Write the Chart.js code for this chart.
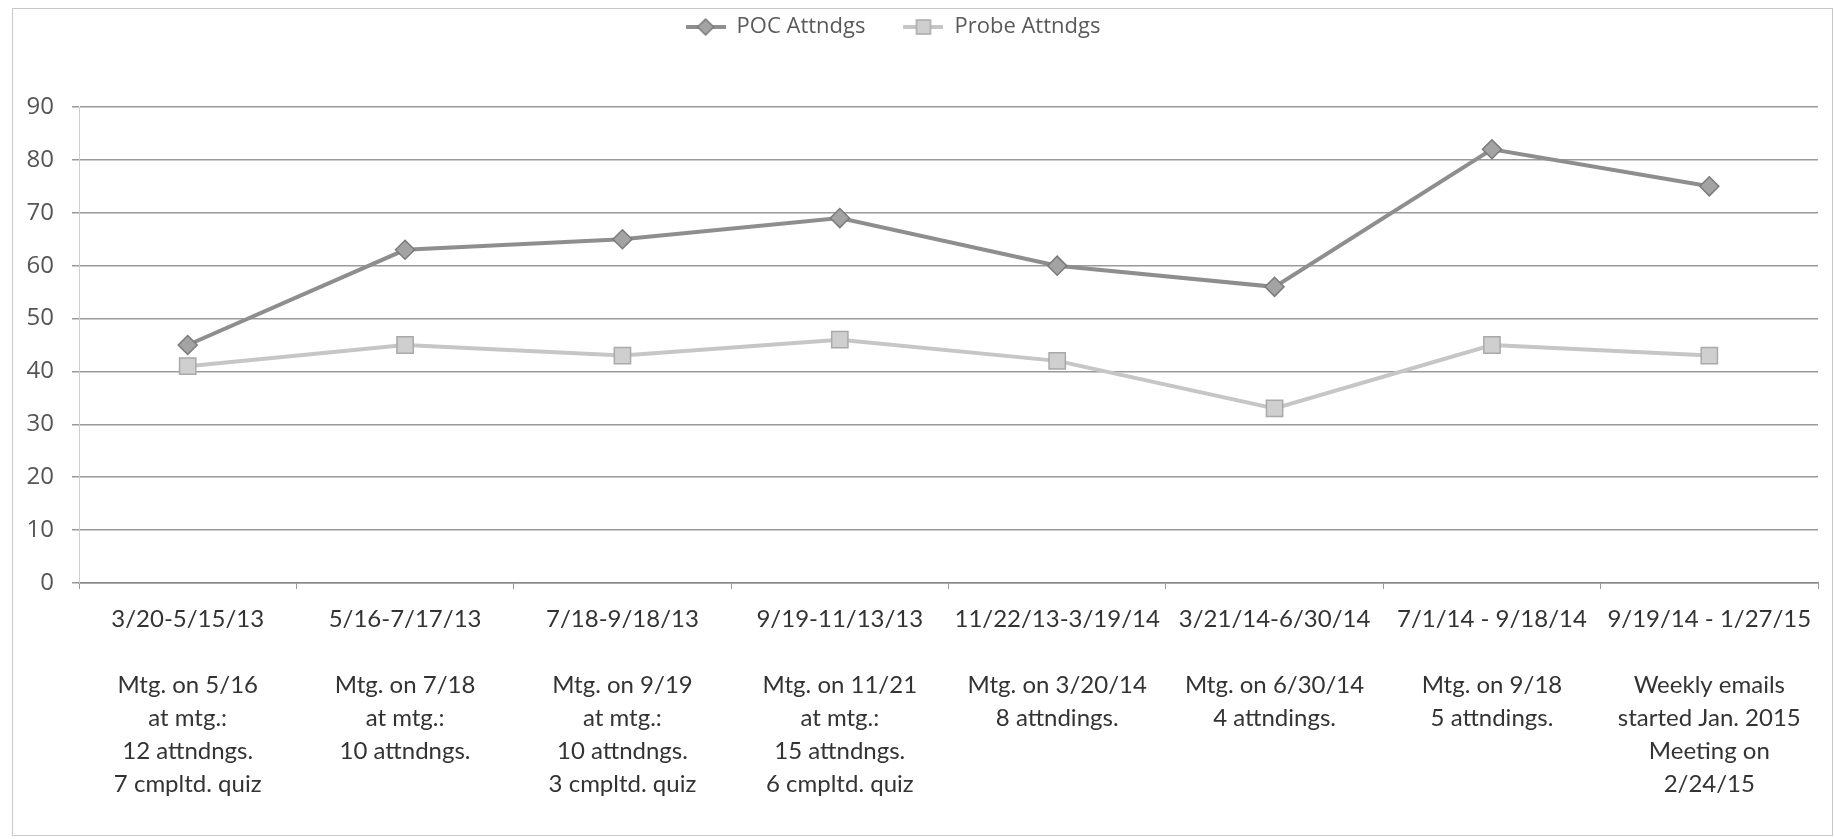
<!DOCTYPE html>
<html>
<head>
<meta charset="utf-8">
<script src="https://cdn.jsdelivr.net/npm/chart.js@4"></script>
<style>
  html, body { margin: 0; padding: 0; background: #fff; }
  #wrap { width: 1834px; height: 839px; }
</style>
</head>
<body>
<div id="wrap"><canvas id="chart" width="1834" height="839"></canvas></div>
<script>
// categorias (rango de fechas + notas de la reunion)
const periods = ['3/20-5/15/13', '5/16-7/17/13', '7/18-9/18/13', '9/19-11/13/13',
    '11/22/13-3/19/14', '3/21/14-6/30/14', '7/1/14 - 9/18/14', '9/19/14 - 1/27/15'];
const notes = [
    ['Mtg. on 5/16', 'at mtg.:', '12 attndngs.', '7 cmpltd. quiz'],
    ['Mtg. on 7/18', 'at mtg.:', '10 attndngs.'],
    ['Mtg. on 9/19', 'at mtg.:', '10 attndngs.', '3 cmpltd. quiz'],
    ['Mtg. on 11/21', 'at mtg.:', '15 attndngs.', '6 cmpltd. quiz'],
    ['Mtg. on 3/20/14', '8 attndings.'],
    ['Mtg. on 6/30/14', '4 attndings.'],
    ['Mtg. on 9/18', '5 attndings.'],
    ['Weekly emails', 'started Jan. 2015', 'Meeting on', '2/24/15']
];
const pocAttndgs = [45, 63, 65, 69, 60, 56, 82, 75];
const probeAttndgs = [41, 45, 43, 46, 42, 33, 45, 43];
const yTicks = [0, 10, 20, 30, 40, 50, 60, 70, 80, 90];

const labels = periods.map((p, i) => [p, ''].concat(notes[i]));

//icono de la legenda: linea con marcador en medio (como excel)
function legendIcon(lineColor, fill, border, shape) {
    const c = document.createElement('canvas');
    c.width = 40; c.height = 20;
    const g = c.getContext('2d');
    g.strokeStyle = lineColor;
    g.lineWidth = 4;
    g.beginPath(); g.moveTo(0, 10); g.lineTo(40, 10); g.stroke();
    g.fillStyle = fill;
    g.strokeStyle = border;
    g.lineWidth = 1.5;
    g.beginPath();
    if (shape === 'diamond') {
        g.moveTo(20, 2); g.lineTo(28, 10); g.lineTo(20, 18); g.lineTo(12, 10); g.closePath();
    } else {
        g.rect(13, 3, 14, 14);
    }
    g.fill(); g.stroke();
    return c;
}
const pocIcon = legendIcon('#8e8e8e', '#a3a3a3', '#7a7a7a', 'diamond');
const probeIcon = legendIcon('#c6c6c6', '#cfcfcf', '#a9a9a9', 'square');

//marco del grafico
const frame = {
    id: 'frame',
    beforeDraw(chart) {
        const ctx = chart.ctx;
        ctx.save();
        ctx.fillStyle = '#fff';
        ctx.fillRect(0, 0, chart.width, chart.height);
        ctx.strokeStyle = '#c8c8c8';
        ctx.lineWidth = 1;
        ctx.strokeRect(12.5, 8.5, chart.width - 14, chart.height - 12);
        ctx.restore();
    }
}
//altura fija de la legenda, y la subo un poco
const legendMargin = {
    id: 'legendMargin',
    beforeInit(chart) {
        const fitValue = chart.legend.fit;
        chart.legend.fit = function fit() {
            fitValue.bind(chart.legend)();
            return this.height = 99;
        }
        const drawValue = chart.legend.draw;
        chart.legend.draw = function draw() {
            const ctx = chart.ctx;
            ctx.save();
            ctx.translate(-22, -30);
            drawValue.bind(chart.legend)();
            ctx.restore();
        }
    }
}

const data = {
    labels: labels,
    datasets: [{
        label: 'POC Attndgs',
        data: pocAttndgs,
        borderColor: '#8e8e8e',
        borderWidth: 4,
        pointStyle: 'rectRot',
        pointRadius: 9.5,
        pointBackgroundColor: '#a3a3a3',
        pointBorderColor: '#7a7a7a',
        pointBorderWidth: 1.5,
        tension: 0
    }, {
        label: 'Probe Attndgs',
        data: probeAttndgs,
        borderColor: '#c6c6c6',
        borderWidth: 4,
        pointStyle: 'rect',
        pointRadius: 11.5,
        pointBackgroundColor: '#cfcfcf',
        pointBorderColor: '#a9a9a9',
        pointBorderWidth: 1.5,
        tension: 0
    }]
}

const config = {
    type: 'line',
    data,
    options: {
        responsive: false,
        animation: false,
        layout: {
            padding: { top: 8, left: 12, right: 16, bottom: 10 }
        },
        scales: {
            x: {
                offset: true,
                grid: {
                    offset: true,
                    drawOnChartArea: false,
                    tickLength: 6,
                    color: '#9a9a9a'
                },
                border: { color: '#888', width: 1.5 },
                ticks: {
                    autoSkip: false,
                    maxRotation: 0,
                    padding: 14,
                    color: '#333',
                    font: { family: 'Lato', size: 24, lineHeight: '33px' }
                },
                afterFit(scale) { scale.height = 246; }
            },
            y: {
                min: 0,
                max: 90,
                afterBuildTicks(scale) { scale.ticks = yTicks.map(v => ({ value: v })); },
                grid: {
                    color: '#9a9a9a',
                    lineWidth: 1.5,
                    tickLength: 7
                },
                border: { color: '#cfcfcf', width: 1 },
                ticks: {
                    padding: 18,
                    color: '#555',
                    font: { family: 'Open Sans', size: 24 }
                },
                afterFit(scale) { scale.width = 67; }
            }
        },
        plugins: {
            legend: {
                position: 'top',
                align: 'center',
                labels: {
                    usePointStyle: true,
                    pointStyleWidth: 40,
                    padding: 38,
                    color: '#5a5a5a',
                    font: { family: 'Open Sans', size: 22 },
                    generateLabels(chart) {
                        const items = Chart.defaults.plugins.legend.labels.generateLabels(chart);
                        items[0].pointStyle = pocIcon;
                        items[1].pointStyle = probeIcon;
                        return items;
                    }
                }
            },
            tooltip: { enabled: false }
        }
    },
    plugins: [frame, legendMargin]
}
var chart = document.getElementById('chart');
var myChart = new Chart(chart, config);
</script>
</body>
</html>
